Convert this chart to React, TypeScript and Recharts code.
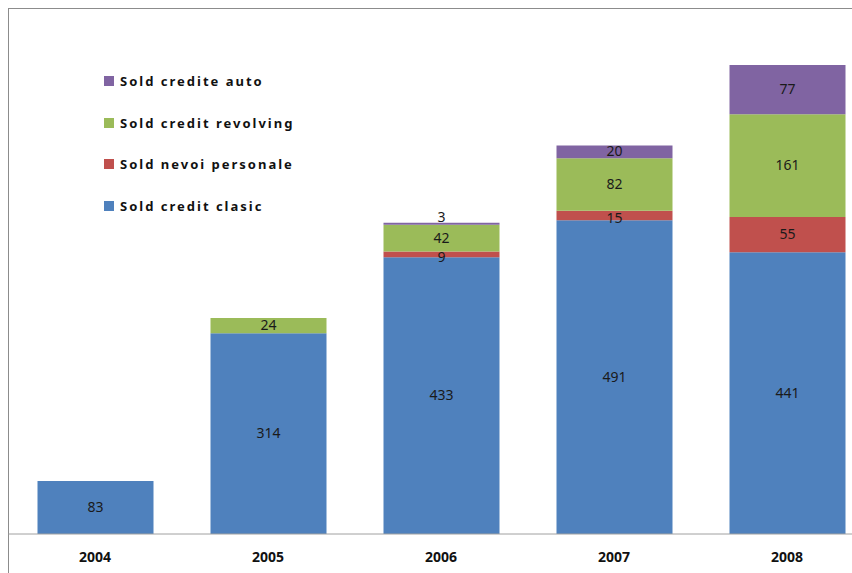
import { BarChart, Bar, XAxis, YAxis, Legend, LabelList } from "recharts";

const years = ["2004", "2005", "2006", "2007", "2008"];
const soldClasic = [83, 314, 433, 491, 441];
const soldNevoi = [null, null, 9, 15, 55];
const soldRevolving = [null, 24, 42, 82, 161];
const soldAuto = [null, null, 3, 20, 77];

const series = [
  { key: "clasic", name: "Sold credit clasic", color: "#4F81BD", values: soldClasic },
  { key: "nevoi", name: "Sold nevoi personale", color: "#C0504D", values: soldNevoi },
  { key: "revolving", name: "Sold credit revolving", color: "#9BBB59", values: soldRevolving },
  { key: "auto", name: "Sold credite auto", color: "#8064A2", values: soldAuto },
];

const data = years.map((year, i) => {
  const row: Record<string, string | number | null> = { year };
  series.forEach((s) => (row[s.key] = s.values[i]));
  return row;
});

const labelFont = { fontFamily: "'Noto Sans', sans-serif", fontSize: 14, fill: "#1a1a1a" };

// centred label; very thin segments get their label lifted just above the bar,
// thin ones are nudged down a bit so they don't run into the label above
function SegmentLabel(props: any) {
  const { x, y, width, height, value } = props;
  if (value == null) return null;
  const h = Math.abs(Number(height));
  let cy = Number(y) + Number(height) / 2 - 1;
  if (h < 4) cy = Number(y) - 6;
  else if (h < 12) cy = Number(y) + Number(height) / 2 + 2;
  return (
    <text x={Number(x) + Number(width) / 2} y={cy} textAnchor="middle" dominantBaseline="central" style={labelFont}>
      {value}
    </text>
  );
}

function LegendBox() {
  return (
    <div>
      {[...series].reverse().map((s) => (
        <div key={s.key} style={{ display: "flex", alignItems: "center", height: 41.7 }}>
          <span style={{ width: 10, height: 10, background: s.color, marginRight: 6 }} />
          <span
            style={{
              fontFamily: "'Noto Sans', sans-serif",
              fontWeight: 700,
              fontSize: 13,
              letterSpacing: 2,
              color: "#111",
            }}
          >
            {s.name}
          </span>
        </div>
      ))}
    </div>
  );
}

export default function App() {
  return (
    <div style={{ position: "absolute", left: 0, top: 0, width: 852, height: 573, overflow: "hidden", background: "#fff" }}>
      <div
        style={{
          position: "absolute",
          left: 8,
          top: 8,
          width: 900,
          height: 600,
          borderLeft: "1px solid #8c8c8c",
          borderTop: "1px solid #8c8c8c",
        }}
      />
      <div style={{ position: "absolute", left: 0, top: 0 }}>
        <BarChart width={880} height={573} data={data} margin={{ top: 22.8, right: 6.5, left: 8.5, bottom: 0 }}>
          <XAxis
            dataKey="year"
            height={39}
            tickLine={false}
            axisLine={{ stroke: "#a0a0a0" }}
            tickMargin={12}
            tick={{ fontFamily: "'Noto Sans', sans-serif", fontWeight: 700, fontSize: 14, fill: "#111" }}
          />
          <YAxis hide domain={[0, 800]} />
          <Legend
            layout="vertical"
            verticalAlign="middle"
            align="center"
            content={<LegendBox />}
            wrapperStyle={{ left: 104, top: 60, width: 300 }}
          />
          {series.map((s) => (
            <Bar key={s.key} dataKey={s.key} name={s.name} stackId="a" fill={s.color} barSize={116} isAnimationActive={false}>
              <LabelList dataKey={s.key} content={<SegmentLabel />} />
            </Bar>
          ))}
        </BarChart>
      </div>
    </div>
  );
}
